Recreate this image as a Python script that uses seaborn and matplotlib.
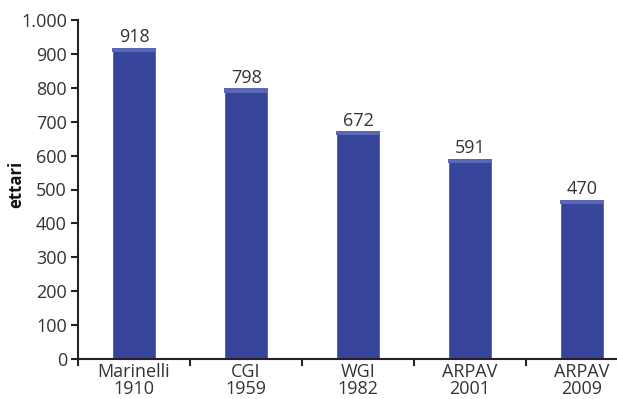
import matplotlib
matplotlib.use('Agg')
import matplotlib.pyplot as plt
import seaborn as sns
import pandas as pd
from matplotlib.patches import Rectangle

# Data
sources = ['Marinelli\n1910', 'CGI\n1959', 'WGI\n1982', 'ARPAV\n2001', 'ARPAV\n2009']
ettari = [918, 798, 672, 591, 470]
y_ticks = [0, 100, 200, 300, 400, 500, 600, 700, 800, 900, 1000]
y_labels = ['0', '100', '200', '300', '400', '500', '600', '700', '800', '900', '1.000']

df = pd.DataFrame({'fonte': sources, 'ettari': ettari})

sns.set_style('white')
plt.rcParams['font.family'] = ['Open Sans', 'DejaVu Sans']
text_col = '#333333'
fs = 13

fig = plt.figure(figsize=(6.17, 3.99), dpi=100)
ax = fig.add_axes([78 / 617, 40 / 399, 560 / 617, 339 / 399])

sns.barplot(data=df, x='fonte', y='ettari', color='#36449a', saturation=1,
            width=0.4, ax=ax)

# lighter strip at top of each bar + value labels
for p in ax.patches:
    ax.add_patch(Rectangle((p.get_x(), p.get_height() - 12), p.get_width(), 12,
                           facecolor='#5a67b4', edgecolor='none'))
    ax.text(p.get_x() + p.get_width() / 2, p.get_height() + 4, f'{int(p.get_height())}',
            ha='center', va='bottom', fontsize=fs, color=text_col)

ax.set_ylim(0, 1000)
ax.set_xlim(-0.5, 4.5)
ax.set_yticks(y_ticks)
ax.set_yticklabels(y_labels, fontsize=fs, color=text_col)
ax.set_xticks(range(len(sources)))
ax.set_xticklabels(sources, fontsize=fs, color=text_col, linespacing=0.9)
ax.tick_params(axis='x', which='major', bottom=True, length=0, pad=3)
ax.set_xticks([-0.5, 0.5, 1.5, 2.5, 3.5], minor=True)
ax.tick_params(axis='x', which='minor', bottom=True, length=5, width=1.5,
               color='#222222', direction='out')
ax.tick_params(axis='y', left=True, length=5, width=1.5, color='#222222',
               direction='out', pad=3)

ax.set_xlabel('')
ax.set_ylabel('ettari', fontsize=12, fontweight='bold', color='#111111')
ax.yaxis.set_label_coords(-0.095, 0.516)

for s in ['top', 'right']:
    ax.spines[s].set_visible(False)
for s in ['left', 'bottom']:
    ax.spines[s].set_color('#222222')
    ax.spines[s].set_linewidth(1.5)

fig.savefig('out.png', dpi=100, facecolor='white')
